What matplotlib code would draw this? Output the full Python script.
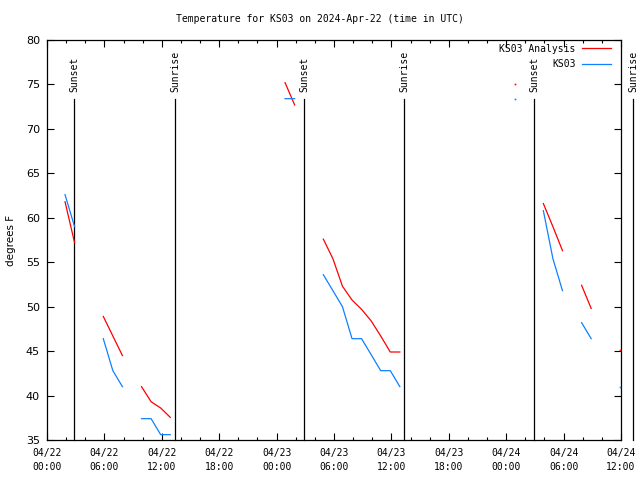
import matplotlib
matplotlib.use("Agg")
import matplotlib.pyplot as plt
import numpy as np
import pandas as pd

# hourly observation times (hh:53 UTC), starting 2024-04-22 01:53
start = pd.Timestamp("2024-04-22 01:53")
nan = np.nan
analysis = [61.8, 57.2, nan, nan, 48.9, 46.7, 44.5, nan, 41.0, 39.3, 38.6, 37.55,
            nan, nan, nan, nan, nan, nan, nan, nan, nan, nan, nan, 75.2, 72.7,
            nan, nan, 57.6, 55.4, 52.3, 50.75, 49.7, 48.4, 46.7, 44.9, 44.9,
            nan, nan, nan, nan, nan, nan, nan, nan, nan, nan, nan, 75.1,
            nan, nan, 61.6, 59.0, 56.3, nan, 52.4, 49.8, nan, nan, 45.1]
obs = [62.6, 59.0, nan, nan, 46.4, 42.8, 41.0, nan, 37.4, 37.4, 35.6, 35.6,
       nan, nan, nan, nan, nan, nan, nan, nan, nan, nan, nan, 73.4, 73.4,
       nan, nan, 53.6, 51.8, 50.0, 46.4, 46.4, 44.6, 42.8, 42.8, 41.0,
       nan, nan, nan, nan, nan, nan, nan, nan, nan, nan, nan, 73.4,
       nan, nan, 60.8, 55.4, 51.8, nan, 48.2, 46.4, nan, nan, 41.0]
times = pd.date_range(start, periods=len(analysis), freq="h")

sunsets = ["2024-04-22 02:50", "2024-04-23 02:52", "2024-04-24 02:54"]
sunrises = ["2024-04-22 13:23", "2024-04-23 13:19", "2024-04-24 13:18"]

series_labels = ["KS03 Analysis", "KS03"]
series_colors = ["#ff0000", "#0f80ff"]

xmin = pd.Timestamp("2024-04-22 00:00")
xmax = pd.Timestamp("2024-04-24 12:00")
ymin, ymax = 35, 80
yticks = list(range(35, 81, 5))

mono = "DejaVu Sans Mono"
fs = 7

fig = plt.figure(figsize=(6.4, 4.8), dpi=100)
ax = fig.add_axes([47/640, 40/480, 574/640, 400/480])

for vals, lab, col in zip([analysis, obs], series_labels, series_colors):
    v = np.array(vals, dtype=float)
    ax.plot(times, v, color=col, lw=0.9, label=lab, zorder=3)
    iso = []
    for i in range(len(v)):
        if np.isnan(v[i]):
            continue
        left = np.isnan(v[i-1]) if i > 0 else True
        right = np.isnan(v[i+1]) if i < len(v)-1 else True
        if left and right:
            iso.append(i)
    if iso:
        ax.plot(times[iso], v[iso], linestyle="none", marker="s", ms=1.2,
                mew=0, color=col, zorder=3)

line_top = 73.35
for lbl, lst in [("Sunset", sunsets), ("Sunrise", sunrises)]:
    for t in lst:
        tt = pd.Timestamp(t)
        ax.plot([tt, tt], [ymin, line_top], color="black", lw=0.9, clip_on=False, zorder=2)
        ax.text(tt, 74.15, lbl, rotation=90, ha="center", va="bottom",
                fontsize=fs, family=mono, clip_on=False)

ax.set_xlim(xmin, xmax)
ax.set_ylim(ymin, ymax)
major = pd.date_range(xmin, xmax, freq="6h")
minor = pd.date_range(xmin, xmax, freq="2h")
ax.set_xticks(major)
ax.set_xticks(minor, minor=True)
ax.set_xticklabels([d.strftime("%m/%d\n%H:%M") for d in major], family=mono,
                   fontsize=fs, linespacing=1.45)
ax.set_yticks(yticks)
ax.set_yticklabels([str(y) for y in yticks], fontsize=8)
ax.tick_params(which="major", direction="in", length=5, width=0.8,
               top=True, right=True)
ax.tick_params(axis="x", which="major", pad=6)
ax.tick_params(axis="y", which="major", pad=5)
ax.tick_params(which="minor", direction="in", length=2.5, width=0.8, top=True, right=False)
ax.tick_params(axis="y", which="minor", left=False, right=False)
for s in ax.spines.values():
    s.set_linewidth(0.9)

ax.set_ylabel("degrees F", fontsize=7.5)
ax.yaxis.set_label_coords(-0.054, 0.5)
fig.text(320/640, 1 - 19/480, "Temperature for KS03 on 2024-Apr-22 (time in UTC)",
         family=mono, fontsize=fs, ha="center", va="center")

leg = ax.legend(loc="upper right", markerfirst=False, frameon=False,
                prop={"family": mono, "size": fs}, handlelength=3.0,
                borderaxespad=0.0, labelspacing=0.55, handletextpad=0.6,
                bbox_to_anchor=(0.989, 1.0))

fig.savefig("out.png", dpi=100)
